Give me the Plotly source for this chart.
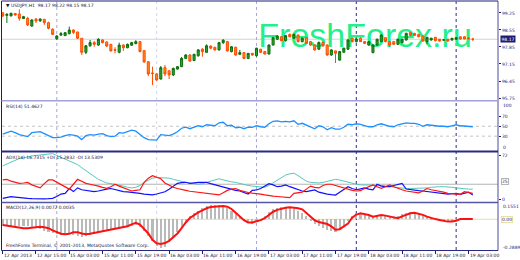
import plotly.graph_objects as go

# ---------------- data ----------------
opens = [99.26, 99.15, 99.13, 99.23, 99.21, 99.02, 99.03, 98.71, 99.00, 98.93,
         98.99, 98.85, 98.58, 98.19, 98.34, 98.32, 98.40, 98.55, 98.47, 98.21,
         97.63, 97.90, 98.03, 97.93, 98.14, 98.06, 97.96, 97.74, 97.63, 97.93,
         97.82, 97.92, 97.99, 98.07, 97.70, 97.24, 96.78, 96.74, 96.53, 97.00,
         96.87, 96.70, 96.94, 97.04, 97.38, 97.52, 97.29, 97.49, 97.76, 97.63,
         97.89, 97.84, 97.73, 98.03, 98.07, 97.66, 97.84, 97.55, 97.62, 97.38,
         97.59, 97.49, 97.76, 97.66, 97.56, 97.93, 98.17, 98.27, 98.11, 98.37,
         98.21, 98.34, 98.07, 98.23, 98.07, 97.93, 97.76, 98.04, 97.93, 97.52,
         97.69, 97.31, 97.63, 97.76, 98.21, 98.07, 98.21, 98.07, 97.93, 97.62,
         97.93, 98.07, 98.23, 98.07, 98.07, 97.96, 98.03, 98.14, 98.44, 98.41,
         98.37, 98.30, 98.07, 98.14, 98.25, 98.17, 98.14, 98.17, 98.14, 98.17,
         98.27, 98.27, 98.22, 98.17]
highs = [99.28, 99.25, 99.25, 99.25, 99.40, 99.13, 99.09, 99.00, 99.04, 99.03,
         99.00, 98.89, 98.62, 98.34, 98.47, 98.45, 98.69, 98.58, 98.47, 98.22,
         97.93, 98.14, 98.10, 98.21, 98.17, 98.07, 97.97, 97.84, 98.03, 97.96,
         97.99, 98.06, 98.13, 98.10, 97.73, 97.27, 97.04, 96.78, 97.07, 97.11,
         96.90, 97.00, 97.07, 97.44, 97.56, 97.55, 97.56, 97.76, 97.80, 97.96,
         97.92, 97.85, 98.06, 98.17, 98.10, 97.89, 97.86, 97.73, 97.63, 97.60,
         97.60, 97.82, 97.77, 97.69, 97.96, 98.27, 98.34, 98.30, 98.34, 98.40,
         98.39, 98.37, 98.23, 98.25, 98.10, 97.96, 98.07, 98.07, 97.96, 97.76,
         97.70, 97.69, 97.82, 98.17, 98.23, 98.21, 98.25, 98.10, 98.10, 97.96,
         98.19, 98.37, 98.26, 98.10, 98.10, 98.19, 98.19, 98.44, 98.45, 98.43,
         98.39, 98.32, 98.26, 98.23, 98.26, 98.18, 98.17, 98.18, 98.22, 98.25,
         98.29, 98.29, 98.24, 98.23]
lows = [99.09, 98.84, 99.11, 99.13, 98.93, 99.00, 98.71, 98.69, 98.84, 98.88,
        98.76, 98.58, 98.34, 98.14, 98.30, 98.30, 98.37, 98.39, 98.18, 97.52,
        97.56, 97.86, 97.86, 97.90, 98.00, 97.85, 97.66, 97.59, 97.59, 97.69,
        97.80, 97.89, 97.96, 97.63, 97.19, 96.65, 96.28, 96.47, 96.51, 96.65,
        96.53, 96.65, 96.92, 97.03, 97.36, 97.24, 97.27, 97.45, 97.45, 97.60,
        97.76, 97.70, 97.70, 97.97, 97.66, 97.63, 97.49, 97.52, 97.35, 97.35,
        97.49, 97.45, 97.60, 97.55, 97.55, 97.92, 98.14, 98.10, 98.07, 98.25,
        98.18, 98.04, 98.04, 97.97, 97.90, 97.70, 97.73, 97.86, 97.49, 97.49,
        97.19, 97.29, 97.62, 97.73, 98.04, 98.04, 98.06, 97.97, 97.90, 97.59,
        97.90, 98.06, 98.04, 97.86, 97.93, 97.93, 98.00, 98.11, 98.30, 98.30,
        98.25, 98.07, 97.96, 98.11, 98.08, 98.07, 98.11, 98.07, 98.11, 98.14,
        98.15, 98.17, 98.17, 98.10]
closes = [99.13, 99.19, 99.24, 99.17, 99.03, 99.10, 98.76, 98.96, 98.92, 99.00,
          98.85, 98.62, 98.37, 98.30, 98.40, 98.44, 98.55, 98.45, 98.21, 97.63,
          97.90, 98.03, 97.96, 98.17, 98.03, 97.89, 97.69, 97.72, 97.93, 97.82,
          97.96, 98.03, 98.07, 97.66, 97.24, 96.74, 96.76, 96.49, 97.00, 96.74,
          96.70, 96.97, 97.04, 97.38, 97.52, 97.27, 97.55, 97.73, 97.66, 97.90,
          97.80, 97.73, 98.03, 98.13, 97.69, 97.86, 97.52, 97.62, 97.38, 97.59,
          97.52, 97.80, 97.63, 97.56, 97.93, 98.23, 98.30, 98.11, 98.32, 98.27,
          98.37, 98.07, 98.21, 98.00, 97.93, 97.73, 98.04, 97.90, 97.52, 97.73,
          97.59, 97.66, 97.80, 98.14, 98.07, 98.18, 98.07, 98.00, 98.07, 97.93,
          98.17, 98.34, 98.07, 97.93, 97.96, 98.17, 98.17, 98.41, 98.33, 98.33,
          98.27, 98.10, 98.25, 98.21, 98.11, 98.10, 98.14, 98.10, 98.21, 98.23,
          98.18, 98.18, 98.19, 98.17]

rsi = [34, 37, 40, 37, 33, 31, 29, 37, 38, 39,
       35, 31, 27, 27, 28, 31, 33, 32, 30, 23,
       31, 33, 32, 34, 35, 31, 29, 30, 37, 36,
       39, 42, 40, 33, 27, 23, 23, 22, 33, 32,
       31, 34, 39, 46, 48, 45, 48, 51, 49, 53,
       52, 51, 57, 58, 51, 52, 47, 48, 45, 48,
       48, 51, 49, 48, 55, 60, 61, 59, 60, 59,
       61, 54, 56, 52, 49, 45, 51, 49, 43, 47,
       44, 44, 48, 54, 53, 55, 54, 51, 49, 49,
       53, 55, 52, 50, 49, 53, 55, 57, 56, 56,
       54, 50, 53, 52, 50, 50, 50, 49, 51, 53,
       51, 50, 49, 49]

adx_main = [55, 58, 61, 64, 67, 68, 70, 71, 72, 73,
            74, 75, 75, 72, 69, 66, 63, 60, 57, 52,
            47, 43, 37, 33, 30, 27, 26, 25, 24, 22,
            20, 19, 20, 23, 28, 32, 35, 36, 36, 35,
            35, 33, 31, 29, 28, 27, 26, 25, 26, 28,
            30, 32, 34, 32, 30, 29, 28, 26, 25, 23,
            22, 21, 21, 20, 23, 27, 31, 36, 40, 42,
            43, 39, 34, 30, 28, 27, 27, 28, 30, 31,
            33, 32, 30, 28, 26, 25, 24, 24, 24, 23,
            23, 23, 22, 21, 20, 19, 19, 18, 18, 18,
            18, 19, 19, 20, 21, 21, 21, 21, 20, 19,
            18, 18, 17, 17]
plus_di = [2, 3.5, 4.7, 4, 3, 2.5, 2, 1.5, 1, 1,
           1.2, 1.5, 2, 5, 9, 10, 18, 13, 19, 16,
           15, 14, 13, 14, 16, 17, 18, 16, 14, 13,
           12.5, 12, 11, 10, 9, 8, 7.5, 9, 11, 12.8,
           17, 22, 26.5, 27.5, 28.2, 26.5, 27.5, 28, 28.2, 28,
           26, 24, 22, 20, 19, 17, 15, 14, 12, 9,
           15, 15.6, 18, 22, 26, 24, 21, 22, 23.8, 21,
           18.4, 16, 14, 12.8, 14, 15.6, 12, 10.2, 9, 8,
           7.4, 12, 17, 21, 18, 16, 17.5, 19, 17, 16,
           24.9, 22, 21, 21, 23, 25, 26.5, 17.2, 16, 15,
           14.5, 14, 13, 12, 11.8, 10.5, 9.5, 9, 9.5, 10.2,
           8.5, 10, 12, 7.4]
minus_di = [32, 33, 30, 28, 26.5, 27, 28, 24, 21, 19,
            26, 32, 32, 28, 25, 21, 17, 25, 33, 30,
            26.5, 25, 24, 22, 20, 18.4, 21, 25, 22, 19,
            17, 14, 15, 16, 28, 35, 39, 37, 34, 27,
            23, 20, 18, 16, 15, 13.5, 12.5, 12, 11, 10,
            9, 8.5, 7.5, 11, 15, 17, 18, 15, 13, 11.5,
            10.5, 10, 9, 7.5, 6, 5.5, 5, 4, 3.5, 3,
            10, 11, 12, 17, 22, 20, 19, 23, 25, 25,
            23, 21, 18, 16, 15, 14, 14.5, 18, 21, 23.8,
            21, 18.4, 21, 23.8, 21, 18, 16, 14, 13, 12,
            11, 14, 18, 16, 15, 13, 12, 10, 9.5, 9,
            8.5, 12.8, 11, 10]

macd_main = [-0.06, -0.065, -0.07, -0.07, -0.065, -0.06, -0.065, -0.07, -0.075, -0.09,
             -0.11, -0.12, -0.13, -0.14, -0.15, -0.15, -0.14, -0.15, -0.16, -0.165,
             -0.16, -0.15, -0.14, -0.13, -0.12, -0.11, -0.10, -0.095, -0.09, -0.08,
             -0.07, -0.06, -0.05, -0.07, -0.11, -0.16, -0.21, -0.25, -0.27, -0.26,
             -0.22, -0.17, -0.12, -0.07, -0.02, 0.03, 0.06, 0.08, 0.11, 0.125,
             0.135, 0.14, 0.14, 0.13, 0.11, 0.08, 0.05, 0.02, -0.01, -0.03,
             -0.04, -0.03, -0.01, 0.03, 0.07, 0.10, 0.11, 0.12, 0.12, 0.11,
             0.10, 0.08, 0.06, 0.03, -0.01, -0.04, -0.06, -0.08, -0.10, -0.11,
             -0.12, -0.10, -0.06, -0.01, 0.03, 0.06, 0.06, 0.05, 0.03, 0.02,
             0.03, 0.04, 0.03, 0.02, 0.02, 0.03, 0.05, 0.06, 0.065, 0.06,
             0.05, 0.04, 0.02, 0.01, 0.0, -0.01, -0.02, -0.02, -0.02, -0.01,
             0.0, 0.005, 0.005, 0.0]
macd_signal = [-0.054, -0.06, -0.072, -0.078, -0.082, -0.085, -0.086, -0.082, -0.075, -0.07,
               -0.076, -0.085, -0.105, -0.125, -0.137, -0.143, -0.138, -0.122, -0.122, -0.135,
               -0.143, -0.138, -0.13, -0.124, -0.116, -0.107, -0.098, -0.09, -0.082, -0.074,
               -0.066, -0.048, -0.033, -0.05, -0.09, -0.135, -0.195, -0.228, -0.235, -0.226,
               -0.205, -0.171, -0.135, -0.085, -0.03, 0.012, 0.04, 0.066, 0.085, 0.105,
               0.116, 0.122, 0.126, 0.127, 0.12, 0.098, 0.062, 0.025, -0.008, -0.03,
               -0.03, -0.018, -0.008, 0.01, 0.045, 0.072, 0.09, 0.103, 0.11, 0.114,
               0.112, 0.105, 0.095, 0.06, 0.02, -0.01, -0.025, -0.035, -0.045, -0.068,
               -0.1, -0.094, -0.07, -0.04, 0.015, 0.045, 0.057, 0.05, 0.041, 0.025,
               0.03, 0.041, 0.035, 0.026, 0.018, 0.01, 0.028, 0.045, 0.058, 0.063,
               0.056, 0.042, 0.025, 0.01, 0.002, -0.006, -0.014, -0.022, -0.02, -0.013,
               0.003, 0.003, 0.003, 0.003]

time_label_bars = [0, 8, 16, 24, 32, 40, 48, 56, 64, 72, 80, 88, 96, 104, 112]
time_labels = ["12 Apr 2013", "12 Apr 15:00", "15 Apr 03:00", "15 Apr 11:00", "15 Apr 19:00",
               "16 Apr 03:00", "16 Apr 11:00", "16 Apr 19:00", "17 Apr 03:00", "17 Apr 11:00",
               "17 Apr 19:00", "18 Apr 03:00", "18 Apr 11:00", "18 Apr 19:00", "19 Apr 03:00"]
day_start_bars = [13, 37, 61, 85, 109]
day_line_colors = ["#a6a6da", "#d6d6ee", "#a6a6da", "#2c2c86", "#2c2c86"]

price_ticks = [95.75, 96.45, 97.15, 97.85, 98.55, 99.25]
rsi_ticks = [30, 50, 70]
rsi_levels = [50, 30]
adx_ticks = [0, 72]
adx_level = 25

main_title = "▼ USDJPY,H1  98.17 98.22 98.15 98.17"
rsi_title = "RSI(14) 51.4627"
adx_title = "ADX(14) 16.7315 +DI 15.2832 -DI 13.5309"
macd_title = "MACD(12,26,9) 0.0072 0.0035"
copyright_text = "FreshForex Terminal, © 2001-2013, MetaQuotes Software Corp."
watermark = "FreshForex.ru"

# ---------------- layout helpers ----------------
W, H = 520, 260
NAVY = "#1c1c78"
TXT = "#14143c"
FONT = "DejaVu Sans"
FS = 4.5


def py(p):
    return 1 - p / H


def px(p):
    return p / W


bars = list(range(len(closes)))
XR = [-0.17, 119.06]
XD = [px(2), px(498)]
PRICE_RANGE = [95.647, 99.723]


def bar_px(b):
    # pixel column of a bar index within the plot domain
    return XD[0] + (b - XR[0]) / (XR[1] - XR[0]) * (XD[1] - XD[0])


fig = go.Figure()

# watermark under candles (base main axis)
fig.add_trace(go.Scatter(x=[87.1], y=[98.20], mode="text", text=[watermark],
                         textposition="middle center",
                         textfont=dict(family="Liberation Sans", size=34, color="#22f08a"),
                         xaxis="x", yaxis="y", hoverinfo="skip", showlegend=False))
# candles on overlay axis
fig.add_trace(go.Candlestick(x=bars, open=opens, high=highs, low=lows, close=closes,
                             xaxis="x", yaxis="y5", whiskerwidth=0,
                             increasing=dict(line=dict(color="#0c6e0c", width=1), fillcolor="#2fa32f"),
                             decreasing=dict(line=dict(color="#ff4b00", width=1), fillcolor="#ff8c1e"),
                             hoverinfo="skip", showlegend=False))
# RSI
fig.add_trace(go.Scatter(x=bars, y=rsi, mode="lines", line=dict(color="#1e8fff", width=1.3),
                         xaxis="x2", yaxis="y2", hoverinfo="skip", showlegend=False))
# ADX
fig.add_trace(go.Scatter(x=bars, y=adx_main, mode="lines", line=dict(color="#55c8bc", width=1),
                         xaxis="x3", yaxis="y3", hoverinfo="skip", showlegend=False))
fig.add_trace(go.Scatter(x=bars, y=plus_di, mode="lines", line=dict(color="#1010ff", width=1.2),
                         xaxis="x3", yaxis="y3", hoverinfo="skip", showlegend=False))
fig.add_trace(go.Scatter(x=bars, y=minus_di, mode="lines", line=dict(color="#ff1414", width=1.2),
                         xaxis="x3", yaxis="y3", hoverinfo="skip", showlegend=False))
# MACD
fig.add_trace(go.Bar(x=bars, y=macd_main, width=0.5, marker=dict(color="#b9b9b9", line=dict(width=0)),
                     xaxis="x4", yaxis="y4", hoverinfo="skip", showlegend=False))
fig.add_trace(go.Scatter(x=bars, y=macd_signal, mode="lines", line=dict(color="#ff1010", width=2),
                         xaxis="x4", yaxis="y4", hoverinfo="skip", showlegend=False))

xcommon = dict(domain=XD, range=XR, showgrid=False, zeroline=False, showticklabels=False,
               showline=False, fixedrange=True)
ycommon = dict(side="right", showgrid=False, zeroline=False, showline=False, ticks="outside",
               ticklen=2, tickwidth=1, tickcolor=NAVY, fixedrange=True,
               tickfont=dict(family=FONT, size=FS, color=NAVY))

fig.update_layout(
    width=W, height=H, autosize=False, margin=dict(l=0, r=0, t=0, b=0),
    paper_bgcolor="white", plot_bgcolor="white", showlegend=False, bargap=0,
    font=dict(family=FONT, size=FS, color=TXT),
    xaxis=dict(xcommon, anchor="y", rangeslider=dict(visible=False)),
    xaxis2=dict(xcommon, anchor="y2"),
    xaxis3=dict(xcommon, anchor="y3"),
    xaxis4=dict(xcommon, anchor="y4", ticks="outside", ticklen=3, tickcolor=NAVY,
                tickvals=time_label_bars),
    yaxis=dict(ycommon, anchor="x", domain=[py(100.5), py(1.5)], range=PRICE_RANGE,
               tickvals=price_ticks, ticktext=[f"{v:.2f}" for v in price_ticks]),
    yaxis5=dict(overlaying="y", anchor="x", range=PRICE_RANGE, visible=False, fixedrange=True),
    yaxis2=dict(ycommon, anchor="x2", domain=[py(151), py(101.5)], range=[0, 100],
                tickvals=rsi_ticks),
    yaxis3=dict(ycommon, anchor="x3", domain=[py(202), py(153)], range=[-4, 76],
                tickvals=adx_ticks),
    yaxis4=dict(ycommon, anchor="x4", domain=[py(250), py(203)], range=[-0.292, 0.155],
                tickvals=[]),
)

shapes = []
# bid line
shapes.append(dict(type="line", xref="paper", yref="y", x0=XD[0], x1=XD[1], y0=closes[-1], y1=closes[-1],
                   line=dict(color="#d2d2d2", width=1), layer="below"))
# RSI levels
for lv in rsi_levels:
    shapes.append(dict(type="line", xref="paper", yref="y2", x0=XD[0], x1=XD[1], y0=lv, y1=lv,
                       line=dict(color="#c4c4c4", width=1, dash="dot"), layer="below"))
# ADX level
shapes.append(dict(type="line", xref="paper", yref="y3", x0=XD[0], x1=XD[1], y0=adx_level, y1=adx_level,
                   line=dict(color="#b4b4b4", width=1), layer="below"))
# MACD zero
shapes.append(dict(type="line", xref="paper", yref="y4", x0=XD[0], x1=XD[1], y0=0, y1=0,
                   line=dict(color="#e9e0a2", width=1), layer="below"))
# day separators
for b, c in zip(day_start_bars, day_line_colors):
    shapes.append(dict(type="line", xref="x", yref="paper", x0=b, x1=b, y0=py(250), y1=py(1.5),
                       line=dict(color=c, width=1, dash="dot"), layer="below"))
# frames
shapes.append(dict(type="line", xref="paper", yref="paper", x0=px(1.5), x1=px(1.5), y0=py(250.5), y1=py(1),
                   line=dict(color=NAVY, width=1)))
shapes.append(dict(type="line", xref="paper", yref="paper", x0=px(498), x1=px(498), y0=py(250.5), y1=py(1),
                   line=dict(color="#4a4a9a", width=1)))
for yy, col, wd in [(1, NAVY, 1), (100.8, "#a2a2d8", 1.5), (151.5, "#2a2a84", 2),
                    (202.5, "#5656a6", 1.5), (250.5, "#2a2a84", 1)]:
    shapes.append(dict(type="line", xref="paper", yref="paper", x0=px(1.5), x1=px(498), y0=py(yy), y1=py(yy),
                       line=dict(color=col, width=wd)))
fig.update_layout(shapes=shapes)

ann = []


def label(x, y, text, **kw):
    d = dict(xref="paper", yref="paper", x=x, y=y, text=text, showarrow=False,
             xanchor="left", yanchor="middle", font=dict(family=FONT, size=FS, color=TXT))
    d.update(kw)
    ann.append(d)


label(px(3.5), py(5.5), main_title)
label(px(3.5), py(106), rsi_title)
label(px(3.5), py(157), adx_title)
label(px(3.5), py(207), macd_title)
label(px(3.5), py(245.5), copyright_text)

# right-scale labels that MT4 clamps inside the panel
rl = dict(font=dict(family=FONT, size=FS, color=NAVY))
label(px(501), py(105), "100", **rl)
label(px(501), py(147.5), "0", **rl)
label(px(500.5), py(181.5), str(adx_level), bordercolor="#b4b4b4", borderwidth=1, borderpad=0, **rl)
label(px(501), py(206.5), "0.1551", **rl)
label(px(500.5), py(219.3), "0.00", bordercolor="#e9e0a2", borderwidth=1, borderpad=0, **rl)
label(px(501), py(247.3), "-0.2889", **rl)

# current price box
ann.append(dict(xref="paper", yref="y", x=px(499.5), y=closes[-1], text=f"{closes[-1]:.2f}",
                showarrow=False, xanchor="left", yanchor="middle", bgcolor=NAVY, borderpad=0.5,
                font=dict(family=FONT, size=FS, color="white")))

# time labels (left-aligned at the bar, like MT4)
for b, t in zip(time_label_bars, time_labels):
    ann.append(dict(xref="paper", yref="paper", x=bar_px(b) - px(1), y=py(255.5), text=t,
                    showarrow=False, xanchor="left", yanchor="middle",
                    font=dict(family=FONT, size=FS, color=TXT)))

fig.update_layout(annotations=ann)

fig.write_html("out.html")
